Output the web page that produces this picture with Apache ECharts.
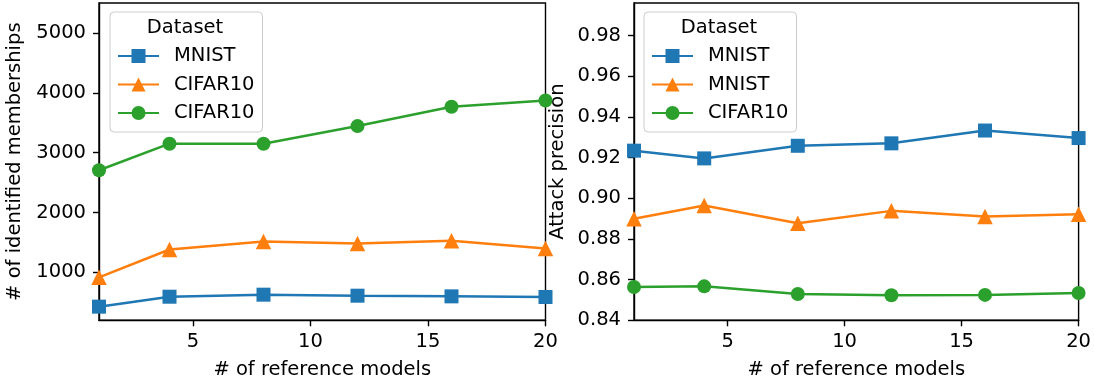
<!DOCTYPE html>
<html>
<head>
<meta charset="utf-8">
<script src="https://cdn.jsdelivr.net/npm/echarts@6/dist/echarts.min.js"></script>
<style>
  html, body { margin: 0; padding: 0; background: #fff; }
  #chart { width: 1094px; height: 386px; }
</style>
</head>
<body>
<div id="chart"></div>
<script>
// x values (number of reference models) and tick labels
var refModels = [1, 4, 8, 12, 16, 20];
var xTicks = [5, 10, 15, 20];
var memTicks = [1000, 2000, 3000, 4000, 5000];
var precTicks = [0.84, 0.86, 0.88, 0.90, 0.92, 0.94, 0.96, 0.98];

// left panel: # of identified memberships
var memMnist = [428, 594, 628, 611, 600, 589];
var memCifarA = [917, 1383, 1517, 1483, 1528, 1400];
var memCifarB = [2706, 3150, 3150, 3444, 3767, 3872];
var leftLabels = ['MNIST', 'CIFAR10', 'CIFAR10'];

// right panel: attack precision
var precMnistA = [0.9234, 0.9196, 0.9258, 0.9270, 0.9333, 0.9296];
var precMnistB = [0.8899, 0.8964, 0.8877, 0.8938, 0.8910, 0.8921];
var precCifar = [0.8564, 0.8567, 0.8529, 0.8523, 0.8525, 0.8534];
var rightLabels = ['MNIST', 'MNIST', 'CIFAR10'];

var colors = ['#1f77b4', '#ff7f0e', '#2ca02c'];
var symbols = ['rect', 'triangle', 'circle'];
var symSizes = [14, 15.5, 14];
var FONT = 'DejaVu Sans';
var FS = 19.5;

// legend names must be unique, show the real label through formatter
var nameMap = {};
leftLabels.forEach(function (l, i) { nameMap['L' + i] = l; });
rightLabels.forEach(function (l, i) { nameMap['R' + i] = l; });

function pairs(ys) {
  return refModels.map(function (x, i) { return [x, ys[i]]; });
}

function mkSeries(id, idx, ys, axis) {
  return {
    name: id,
    type: 'line',
    xAxisIndex: axis,
    yAxisIndex: axis,
    data: pairs(ys),
    symbol: symbols[idx],
    symbolSize: symSizes[idx],
    showAllSymbol: true,
    lineStyle: { color: colors[idx], width: 2.5 },
    itemStyle: { color: colors[idx] },
    emphasis: { disabled: true },
    animation: false,
    z: 3
  };
}

function mkXAxis(grid) {
  return {
    type: 'value',
    gridIndex: grid,
    min: 1,
    max: 20,
    name: '# of reference models',
    nameLocation: 'middle',
    nameGap: 40,
    nameTextStyle: { fontFamily: FONT, fontSize: FS, color: '#000' },
    axisLine: { lineStyle: { color: '#000', width: 1.4 } },
    axisTick: { customValues: xTicks, length: 6, lineStyle: { color: '#000', width: 1.4 } },
    axisLabel: { customValues: xTicks, margin: 12, fontFamily: FONT, fontSize: FS, color: '#000' },
    splitLine: { show: false }
  };
}

function mkYAxis(grid, min, max, ticks, name, gap, fmt) {
  return {
    type: 'value',
    gridIndex: grid,
    min: min,
    max: max,
    name: name,
    nameLocation: 'middle',
    nameGap: gap,
    nameTextStyle: { fontFamily: FONT, fontSize: FS, color: '#000' },
    axisLine: { show: true, lineStyle: { color: '#000', width: 1.4 } },
    axisTick: { show: true, customValues: ticks, length: 6, lineStyle: { color: '#000', width: 1.4 } },
    axisLabel: { customValues: ticks, margin: 13, fontFamily: FONT, fontSize: FS, color: '#000', formatter: fmt },
    splitLine: { show: false }
  };
}

function mkLegend(left, ids) {
  return {
    left: left,
    top: 12,
    orient: 'vertical',
    data: ids,
    selectedMode: false,
    padding: [34, 8, 9, 7],
    itemWidth: 41,
    itemHeight: 17.5,
    itemGap: 8.5,
    borderColor: '#cccccc',
    borderWidth: 1,
    borderRadius: 4,
    backgroundColor: 'rgba(255,255,255,0.8)',
    formatter: function (n) { return nameMap[n]; },
    textStyle: { fontFamily: FONT, fontSize: FS, color: '#000', lineHeight: 20, padding: [0, 0, 0, 10] }
  };
}

var myChart = echarts.init(document.getElementById('chart'), null, { renderer: 'canvas' });

var option = {
  animation: false,
  backgroundColor: '#fff',
  grid: [
    { left: 99, top: 3, width: 446.5, height: 317.3, show: true, borderColor: '#000', borderWidth: 1.4, backgroundColor: 'transparent' },
    { left: 634, top: 3, width: 445.3, height: 317.3, show: true, borderColor: '#000', borderWidth: 1.4, backgroundColor: 'transparent' }
  ],
  xAxis: [mkXAxis(0), mkXAxis(1)],
  yAxis: [
    mkYAxis(0, 200, 5500, memTicks, '# of identified memberships', 74, function (v) { return String(v); }),
    mkYAxis(1, 0.84, 0.996, precTicks, 'Attack precision', 66, function (v) { return v.toFixed(2); })
  ],
  legend: [
    mkLegend(110, ['L0', 'L1', 'L2']),
    mkLegend(644, ['R0', 'R1', 'R2'])
  ],
  graphic: [
    { type: 'text', x: 185, y: 28, z: 100, style: { text: 'Dataset', fontFamily: FONT, fontSize: FS, fill: '#000', textAlign: 'center', textVerticalAlign: 'middle' } },
    { type: 'text', x: 719, y: 28, z: 100, style: { text: 'Dataset', fontFamily: FONT, fontSize: FS, fill: '#000', textAlign: 'center', textVerticalAlign: 'middle' } }
  ],
  series: [
    mkSeries('L0', 0, memMnist, 0),
    mkSeries('L1', 1, memCifarA, 0),
    mkSeries('L2', 2, memCifarB, 0),
    mkSeries('R0', 0, precMnistA, 1),
    mkSeries('R1', 1, precMnistB, 1),
    mkSeries('R2', 2, precCifar, 1)
  ]
};

if (option && typeof option === 'object') {
  myChart.setOption(option, true);
}
</script>
</body>
</html>
